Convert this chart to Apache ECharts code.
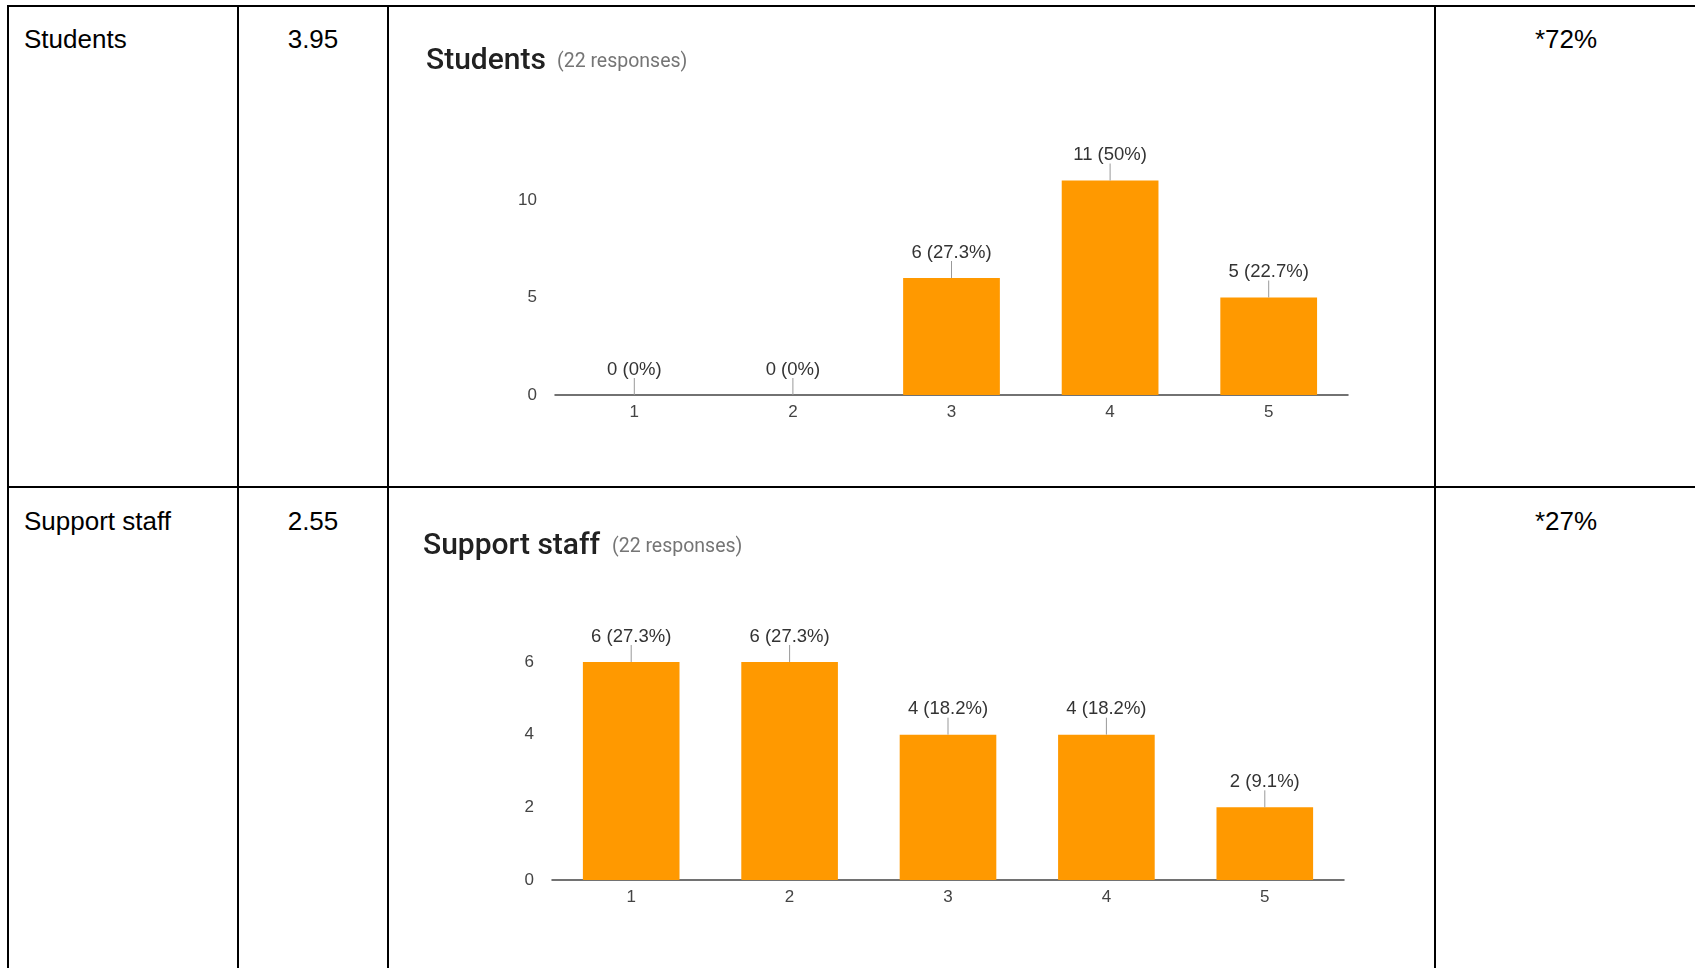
<!DOCTYPE html>
<html><head><meta charset="utf-8">
<script src="https://cdn.jsdelivr.net/npm/echarts@6/dist/echarts.min.js"></script>
<style>
html,body{margin:0;padding:0;background:#fff;width:1695px;height:968px;overflow:hidden;}
#tbl{position:absolute;left:0;top:0;width:1695px;height:968px;}
.ln{position:absolute;background:#000;}
.txt{position:absolute;font-family:'Liberation Sans',Arial,sans-serif;font-size:26px;line-height:26px;color:#000;white-space:nowrap;}
#chart{position:absolute;left:0;top:0;width:1695px;height:968px;}
</style></head><body>
<div id="tbl"></div>
<div id="chart"></div>
<script>
// ---- data ----
const rowLabels = ['Students', 'Support staff'];
const rowMeans = ['3.95', '2.55'];
const rowShares = ['*72%', '*27%'];
const chartTitles = ['Students', 'Support staff'];
const responseCounts = [22, 22];
const categories = ['1', '2', '3', '4', '5'];
const studentsCounts = [0, 0, 6, 11, 5];
const supportStaffCounts = [6, 6, 4, 4, 2];
const studentsTicks = [0, 5, 10];
const supportStaffTicks = [0, 2, 4, 6];

// ---- table (HTML) ----
const tbl = document.getElementById('tbl');
function addLine(l, t, w, h) {
  const d = document.createElement('div'); d.className = 'ln';
  Object.assign(d.style, {left: l + 'px', top: t + 'px', width: w + 'px', height: h + 'px'});
  tbl.appendChild(d);
}
function addText(txt, l, t, w, align) {
  const d = document.createElement('div'); d.className = 'txt'; d.textContent = txt;
  Object.assign(d.style, {left: l + 'px', top: t + 'px'});
  if (w) { d.style.width = w + 'px'; d.style.textAlign = align || 'left'; }
  tbl.appendChild(d);
}
addLine(7, 5, 1700, 2);
addLine(7, 486, 1700, 2);
[7, 237, 387, 1434].forEach(x => addLine(x, 5, 2, 1000));
const rowTops = [26, 508];
rowLabels.forEach((s, i) => {
  addText(s, 24, rowTops[i]);
  addText(rowMeans[i], 239, rowTops[i], 148, 'center');
  addText(rowShares[i], 1436, rowTops[i], 260, 'center');
});

// ---- charts ----
const chart = echarts.init(document.getElementById('chart'), null, {renderer: 'canvas'});
const datasets = [studentsCounts, supportStaffCounts];
const tickSets = [studentsTicks, supportStaffTicks];
const grids = [
  {left: 555, top: 102.5, width: 793, height: 292.5},
  {left: 552, top: 589.3, width: 792, height: 290.7}
];
const titleTops = [46, 531];
const titleLefts = [426, 423];
const respLefts = [557, 612];
const AX_FONT = "'Liberation Sans', Arial, sans-serif";

const option = {
  animation: false,
  backgroundColor: 'transparent',
  title: [],
  grid: grids.map(g => Object.assign({containLabel: false}, g)),
  xAxis: [],
  yAxis: [],
  series: []
};
datasets.forEach((vals, k) => {
  const total = responseCounts[k];
  const ticks = tickSets[k];
  const step = ticks[1] - ticks[0];
  option.title.push({
    text: chartTitles[k], left: titleLefts[k], top: titleTops[k], padding: 0,
    textStyle: {fontFamily: 'Roboto', fontWeight: 500, fontSize: 30, color: '#212121'}
  });
  option.title.push({
    text: '(' + total + ' responses)', left: respLefts[k], top: titleTops[k] + 6, padding: 0,
    textStyle: {fontFamily: 'Roboto', fontWeight: 400, fontSize: 19.5, color: '#757575'}
  });
  option.xAxis.push({
    type: 'category', gridIndex: k, data: categories,
    axisLine: {show: true, lineStyle: {color: '#444', width: 1.5}},
    axisTick: {show: false},
    axisLabel: {color: '#444', fontSize: 17, fontFamily: AX_FONT, margin: 9}
  });
  option.yAxis.push({
    type: 'value', gridIndex: k, min: 0,
    max: ticks[ticks.length - 1] + step, interval: step,
    axisLine: {show: false}, axisTick: {show: false}, splitLine: {show: false},
    axisLabel: {color: '#444', fontSize: 17, fontFamily: AX_FONT, margin: 18, showMaxLabel: false}
  });
  option.series.push({
    type: 'bar', xAxisIndex: k, yAxisIndex: k, data: vals,
    barWidth: '61%',
    itemStyle: {color: '#ff9900'},
    label: {
      show: true, position: 'top', distance: 16,
      color: '#333', fontSize: 18.5, fontFamily: AX_FONT,
      formatter: p => p.value + ' (' + (Math.round(p.value / total * 1000) / 10) + '%)'
    }
  });
  option.series.push({
    type: 'custom', xAxisIndex: k, yAxisIndex: k,
    data: vals.map((v, i) => [i, v]),
    renderItem: (params, api) => {
      const p = api.coord([api.value(0), api.value(1)]);
      return {type: 'line', shape: {x1: p[0], y1: p[1], x2: p[0], y2: p[1] - 17},
        style: {stroke: '#999', lineWidth: 1}};
    },
    z: 3
  });
});
chart.setOption(option);
</script>
</body></html>
